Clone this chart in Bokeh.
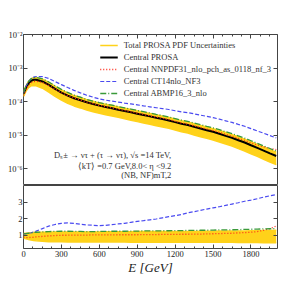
import numpy as np
from bokeh.plotting import figure
from bokeh.layouts import column
from bokeh.models import (FixedTicker, CustomJSTickFormatter, LogAxis, LinearAxis,
                          Label, Legend, LegendItem, Range1d)
from bokeh.embed import file_html
from bokeh.resources import INLINE

# ---------------- data ----------------
energy = [0, 20, 40, 60, 80, 100, 150, 200, 250, 300, 350, 400, 450, 500, 550, 600,
          650, 700, 750, 800, 850, 900, 950, 1000, 1050, 1100, 1150, 1200, 1250, 1300,
          1350, 1400, 1450, 1500, 1550, 1600, 1650, 1700, 1750, 1800, 1850, 1900, 1950, 2000]

central_prosa = [1.74e-4, 2.63e-4, 3.55e-4, 4.17e-4, 4.47e-4, 4.47e-4, 3.98e-4, 3.16e-4,
                 2.40e-4, 1.86e-4, 1.51e-4, 1.26e-4, 1.10e-4, 9.55e-5, 8.51e-5, 7.59e-5,
                 6.92e-5, 6.31e-5, 5.75e-5, 5.25e-5, 4.79e-5, 4.37e-5, 3.98e-5, 3.63e-5,
                 3.31e-5, 3.02e-5, 2.75e-5, 2.45e-5, 2.19e-5, 2.00e-5, 1.78e-5, 1.58e-5,
                 1.41e-5, 1.26e-5, 1.10e-5, 9.55e-6, 8.32e-6, 7.08e-6, 6.03e-6, 5.01e-6,
                 4.17e-6, 3.47e-6, 2.88e-6, 2.40e-6]

ratio_nnpdf = [0.88, 0.86, 0.86, 0.87, 0.88, 0.90, 0.93, 0.96, 0.98, 1.00, 1.00, 1.01, 1.01,
               1.01, 1.02, 1.02, 1.02, 1.02, 1.03, 1.03, 1.03, 1.03, 1.04, 1.04, 1.04, 1.05,
               1.05, 1.05, 1.06, 1.06, 1.07, 1.07, 1.08, 1.09, 1.10, 1.11, 1.12, 1.14, 1.16,
               1.18, 1.22, 1.30, 1.40, 1.55]

ratio_ct14 = [1.08, 1.10, 1.12, 1.15, 1.20, 1.25, 1.40, 1.55, 1.65, 1.72, 1.74, 1.72, 1.66,
              1.62, 1.60, 1.58, 1.60, 1.64, 1.68, 1.72, 1.78, 1.84, 1.88, 1.93, 1.98, 2.05,
              2.12, 2.18, 2.25, 2.35, 2.42, 2.50, 2.58, 2.65, 2.72, 2.80, 2.88, 2.96, 3.05,
              3.12, 3.20, 3.30, 3.38, 3.45]

ratio_abmp = [1.08, 1.10, 1.12, 1.14, 1.16, 1.18, 1.20, 1.22, 1.23, 1.24, 1.24, 1.23, 1.23,
              1.22, 1.22, 1.23, 1.23, 1.24, 1.24, 1.24, 1.25, 1.25, 1.26, 1.26, 1.26, 1.27,
              1.27, 1.28, 1.28, 1.29, 1.29, 1.30, 1.30, 1.31, 1.32, 1.32, 1.33, 1.34, 1.35,
              1.36, 1.37, 1.38, 1.39, 1.40]

band_high = [1.10, 1.12, 1.14, 1.15, 1.16, 1.17, 1.18, 1.18, 1.19, 1.19, 1.20, 1.20, 1.20,
             1.20, 1.20, 1.20, 1.21, 1.21, 1.21, 1.21, 1.21, 1.22, 1.22, 1.22, 1.22, 1.22,
             1.22, 1.23, 1.23, 1.23, 1.23, 1.24, 1.24, 1.24, 1.25, 1.25, 1.25, 1.26, 1.26,
             1.27, 1.27, 1.28, 1.29, 1.30]

band_low = [0.82, 0.78, 0.74, 0.71, 0.68, 0.66, 0.63, 0.61, 0.60, 0.60, 0.59, 0.59, 0.59,
            0.59, 0.59, 0.59, 0.59, 0.59, 0.59, 0.59, 0.58, 0.58, 0.58, 0.58, 0.58, 0.58,
            0.58, 0.58, 0.58, 0.58, 0.57, 0.57, 0.57, 0.57, 0.57, 0.57, 0.57, 0.56, 0.56,
            0.56, 0.56, 0.55, 0.55, 0.55]

x_ticks = [0, 300, 600, 900, 1200, 1500, 1800]
y_top_ticks = [1e-6, 1e-5, 1e-4, 1e-3, 1e-2]
y_top_labels = ["10\u207b\u2076", "10\u207b\u2075", "10\u207b\u2074", "10\u207b\u00b3", "10\u207b\u00b2"]
y_bot_ticks = [1, 2, 3]

legend_labels = ["Total PROSA PDF Uncertainties", "Central PROSA",
                 "Central NNPDF31_nlo_pch_as_0118_nf_3", "Central CT14nlo_NF3",
                 "Central ABMP16_3_nlo"]
annotation_lines = ["D\u209b\u00b1 \u2192 \u03bd\u03c4 + (\u03c4 \u2192 \u03bd\u03c4), \u221as =14 TeV,",
                    "\u27e8kT\u27e9 =0.7 GeV,8.0< \u03b7 <9.2",
                    "(NB, NF)mT,2"]

# ---------------- derived ----------------
E = np.array(energy, dtype=float)
c = np.array(central_prosa)
r_nn = np.array(ratio_nnpdf)
r_ct = np.array(ratio_ct14)
r_ab = np.array(ratio_abmp)
b_hi = np.array(band_high)
b_lo = np.array(band_low)

FONT = "Liberation Serif"
FRAME = "#444444"
YEL = "#FFD21A"
RED = "#FF2A1A"
BLUE = "#4A4AF0"
GREEN = "#3A9A3A"

log_fmt = CustomJSTickFormatter(args=dict(vals=y_top_ticks, labs=y_top_labels), code="""
for (let i = 0; i < vals.length; i++) {
  if (Math.abs(Math.log10(tick) - Math.log10(vals[i])) < 1e-6) return labs[i];
}
return '';
""")


def style_axis(ax, font_size="8.5px"):
    ax.axis_line_color = None
    ax.major_tick_in = 4
    ax.major_tick_out = 0
    ax.minor_tick_in = 2
    ax.minor_tick_out = 0
    ax.major_tick_line_color = FRAME
    ax.minor_tick_line_color = FRAME
    ax.major_label_text_font = FONT
    ax.major_label_text_font_size = font_size
    ax.major_label_text_color = "#222222"
    ax.major_label_standoff = 1


def blank_axis(ax):
    ax.axis_line_color = None
    ax.major_tick_in = 4
    ax.major_tick_out = 0
    ax.minor_tick_in = 2
    ax.minor_tick_out = 0
    ax.major_tick_line_color = FRAME
    ax.minor_tick_line_color = FRAME
    ax.formatter = CustomJSTickFormatter(code="return ' ';")
    ax.major_label_text_font_size = "1px"
    ax.major_label_text_color = None
    ax.major_label_standoff = 0


x_range = Range1d(0, 2010)
BL, BR = 23, 10
FW = 254

# ---------------- top panel ----------------
p1 = figure(frame_width=FW, frame_height=151, x_range=x_range,
            y_range=Range1d(10 ** -6.5, 1e-2),
            y_axis_type="log", output_backend="svg", toolbar_location=None,
            min_border_left=BL, min_border_right=BR, min_border_top=34, min_border_bottom=0)
p1.xaxis.visible = False
p1.grid.visible = False
p1.outline_line_color = FRAME
p1.outline_line_alpha = 1
p1.yaxis.ticker = FixedTicker(ticks=y_top_ticks, minor_ticks=[])
p1.yaxis.formatter = log_fmt
style_axis(p1.yaxis[0])

ax_r = LogAxis(ticker=FixedTicker(ticks=y_top_ticks, minor_ticks=[]))
blank_axis(ax_r)
p1.add_layout(ax_r, "right")
ax_t = LinearAxis(ticker=FixedTicker(ticks=x_ticks, minor_ticks=list(range(75, 2010, 75))))
blank_axis(ax_t)
p1.add_layout(ax_t, "above")

p1.varea(x=E, y1=c * b_lo, y2=c * b_hi, fill_color=YEL, fill_alpha=1)
band_edge = p1.line(E, c * b_hi, line_color=YEL, line_width=1.5)
p1.line(E, c * b_lo, line_color=YEL, line_width=1.5)
r_c = p1.line(E, c, line_color="black", line_width=2)
r_n = p1.line(E, c * r_nn, line_color=RED, line_width=1.3, line_dash="1 2")
r_t = p1.line(E, c * r_ct, line_color=BLUE, line_width=1.2, line_dash="4 2")
r_a = p1.line(E, c * r_ab, line_color=GREEN, line_width=1.3, line_dash="6 2 1 2")

legend = Legend(items=[LegendItem(label=legend_labels[0], renderers=[band_edge]),
                       LegendItem(label=legend_labels[1], renderers=[r_c]),
                       LegendItem(label=legend_labels[2], renderers=[r_n]),
                       LegendItem(label=legend_labels[3], renderers=[r_t]),
                       LegendItem(label=legend_labels[4], renderers=[r_a])],
                location="top_right", label_text_font=FONT, label_text_font_size="8.5px",
                label_text_color="#333333", background_fill_alpha=0, border_line_color=None,
                glyph_width=18, glyph_height=10, label_height=10, spacing=2, padding=0,
                margin=6, label_standoff=6)
p1.add_layout(legend)

for txt, yv in zip(annotation_lines, [10 ** -5.58, 10 ** -5.91, 10 ** -6.2]):
    p1.add_layout(Label(x=1170, y=yv, text=txt, text_align="right", text_baseline="middle",
                        text_font=FONT, text_font_size="8.5px", text_color="#333333"))

# ---------------- ratio panel ----------------
p2 = figure(frame_width=FW, frame_height=63, x_range=x_range, y_range=Range1d(0.2, 4.0),
            output_backend="svg", toolbar_location=None,
            min_border_left=BL, min_border_right=BR, min_border_top=0, min_border_bottom=10)
p2.grid.visible = False
p2.outline_line_color = FRAME
p2.outline_line_alpha = 1
p2.xaxis.ticker = FixedTicker(ticks=x_ticks, minor_ticks=list(range(75, 2010, 75)))
p2.yaxis.ticker = FixedTicker(ticks=y_bot_ticks, minor_ticks=[])
style_axis(p2.xaxis[0])
style_axis(p2.yaxis[0])
p2.xaxis.major_label_standoff = 2
p2.xaxis.axis_label = "E [GeV]"
p2.xaxis.axis_label_text_font = FONT
p2.xaxis.axis_label_text_font_style = "italic"
p2.xaxis.axis_label_text_font_size = "13px"
p2.xaxis.axis_label_text_color = "#222222"
p2.xaxis.axis_label_standoff = 0

ax_r2 = LinearAxis(ticker=FixedTicker(ticks=y_bot_ticks, minor_ticks=[]))
blank_axis(ax_r2)
p2.add_layout(ax_r2, "right")

p2.varea(x=E, y1=b_lo, y2=b_hi, fill_color=YEL, fill_alpha=1)
p2.line(E, b_hi, line_color=YEL, line_width=1.5)
p2.line(E, b_lo, line_color=YEL, line_width=1.5)
p2.line(E, r_nn, line_color=RED, line_width=1.3, line_dash="1 2")
p2.line(E, r_ct, line_color=BLUE, line_width=1.2, line_dash="4 2")
p2.line(E, r_ab, line_color=GREEN, line_width=1.3, line_dash="6 2 1 2")

layout = column(p1, p2, spacing=0)

open("out.html", "w").write(file_html(layout, INLINE))
